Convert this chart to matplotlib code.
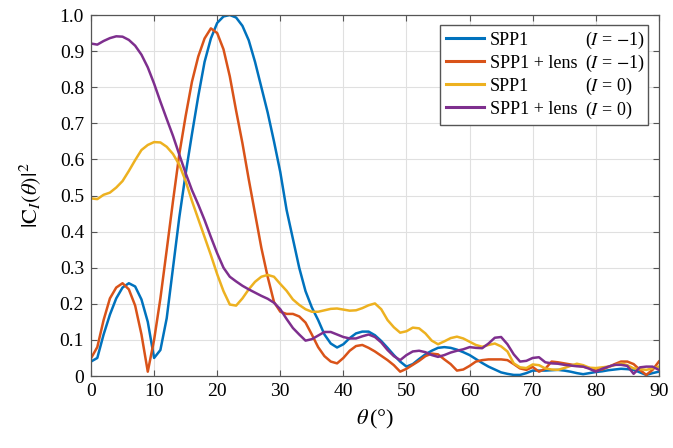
import numpy as np
import matplotlib
matplotlib.use('Agg')
import matplotlib.pyplot as plt
from matplotlib.lines import Line2D
from matplotlib.transforms import IdentityTransform

plt.rcParams['font.family'] = ['Liberation Serif', 'DejaVu Serif']
plt.rcParams['mathtext.fontset'] = 'stix'

# angle in degrees, 1 degree steps
theta = np.arange(0, 91, 1)

# SPP1 (I = -1)
spp1_m1 = [0.040, 0.050, 0.115, 0.170, 0.215, 0.245, 0.257, 0.248, 0.212, 0.150,
           0.050, 0.072, 0.160, 0.300, 0.440, 0.560, 0.670, 0.775, 0.870, 0.935,
           0.978, 0.996, 1.000, 0.993, 0.970, 0.930, 0.870, 0.800, 0.730, 0.650,
           0.565, 0.460, 0.380, 0.300, 0.235, 0.190, 0.155, 0.115, 0.090, 0.079,
           0.088, 0.105, 0.118, 0.123, 0.123, 0.113, 0.097, 0.078, 0.058, 0.040,
           0.026, 0.033, 0.047, 0.060, 0.070, 0.078, 0.080, 0.078, 0.073, 0.066,
           0.058, 0.047, 0.036, 0.026, 0.018, 0.010, 0.006, 0.003, 0.003, 0.008,
           0.015, 0.015, 0.015, 0.016, 0.017, 0.015, 0.012, 0.008, 0.005, 0.008,
           0.011, 0.013, 0.016, 0.018, 0.020, 0.019, 0.017, 0.010, 0.003, 0.008,
           0.012]

# SPP1 + lens (I = -1)
lens_m1 = [0.049, 0.080, 0.155, 0.215, 0.245, 0.257, 0.240, 0.195, 0.115, 0.012,
           0.100, 0.215, 0.349, 0.485, 0.615, 0.720, 0.815, 0.885, 0.935, 0.963,
           0.950, 0.905, 0.830, 0.735, 0.645, 0.545, 0.450, 0.355, 0.275, 0.205,
           0.178, 0.172, 0.172, 0.165, 0.148, 0.115, 0.080, 0.055, 0.040, 0.035,
           0.050, 0.070, 0.083, 0.086, 0.078, 0.068, 0.056, 0.044, 0.030, 0.012,
           0.020, 0.031, 0.042, 0.055, 0.062, 0.060, 0.046, 0.033, 0.015, 0.018,
           0.028, 0.040, 0.044, 0.046, 0.046, 0.046, 0.044, 0.033, 0.021, 0.017,
           0.025, 0.012, 0.020, 0.040, 0.038, 0.035, 0.032, 0.029, 0.026, 0.022,
           0.015, 0.018, 0.025, 0.033, 0.040, 0.040, 0.033, 0.017, 0.003, 0.017,
           0.040]

# SPP1 (I = 0)
spp1_0 = [0.492, 0.490, 0.502, 0.508, 0.522, 0.540, 0.568, 0.598, 0.626, 0.640,
          0.648, 0.647, 0.635, 0.615, 0.585, 0.540, 0.485, 0.435, 0.385, 0.335,
          0.282, 0.235, 0.198, 0.195, 0.215, 0.240, 0.261, 0.275, 0.280, 0.275,
          0.255, 0.236, 0.212, 0.197, 0.185, 0.178, 0.178, 0.182, 0.186, 0.187,
          0.184, 0.181, 0.182, 0.188, 0.196, 0.201, 0.185, 0.155, 0.135, 0.120,
          0.124, 0.134, 0.132, 0.118, 0.098, 0.088, 0.096, 0.105, 0.109, 0.104,
          0.095, 0.086, 0.081, 0.086, 0.090, 0.082, 0.068, 0.035, 0.024, 0.022,
          0.032, 0.030, 0.021, 0.018, 0.017, 0.022, 0.028, 0.034, 0.030, 0.023,
          0.022, 0.024, 0.026, 0.030, 0.035, 0.030, 0.021, 0.019, 0.017, 0.021,
          0.026]

# SPP1 + lens (I = 0)
lens_0 = [0.921, 0.918, 0.928, 0.936, 0.941, 0.940, 0.931, 0.915, 0.890, 0.855,
          0.810, 0.760, 0.712, 0.665, 0.613, 0.562, 0.515, 0.475, 0.432, 0.385,
          0.340, 0.300, 0.275, 0.262, 0.250, 0.240, 0.231, 0.222, 0.214, 0.203,
          0.185, 0.158, 0.133, 0.115, 0.098, 0.102, 0.112, 0.122, 0.122, 0.115,
          0.108, 0.104, 0.104, 0.110, 0.115, 0.108, 0.093, 0.072, 0.055, 0.044,
          0.058, 0.068, 0.070, 0.066, 0.058, 0.053, 0.058, 0.065, 0.070, 0.074,
          0.080, 0.078, 0.077, 0.090, 0.106, 0.108, 0.088, 0.060, 0.040, 0.042,
          0.050, 0.052, 0.038, 0.035, 0.034, 0.031, 0.029, 0.027, 0.026, 0.020,
          0.012, 0.020, 0.026, 0.031, 0.031, 0.028, 0.006, 0.024, 0.026, 0.026,
          0.017]

names = ['SPP1', 'SPP1 + lens', 'SPP1', 'SPP1 + lens']
conds = [r'($I$ = $-$1)', r'($I$ = $-$1)', r'($I$ = 0)', r'($I$ = 0)']
conds_plain = ['(I = \u22121)', '(I = \u22121)', '(I = 0)', '(I = 0)']
colors = ['#0072BD', '#D95319', '#EDB120', '#7E2F8E']
series = [spp1_m1, lens_m1, spp1_0, lens_0]

fig = plt.figure(figsize=(6.73, 4.48), dpi=100)
ax = fig.add_axes([0.1352, 0.1607, 0.8438, 0.8058])

for y, c in zip(series, colors):
    ax.plot(theta, y, color=c, linewidth=1.8)

ax.set_xlim(0, 90)
ax.set_ylim(0, 1.0)
ax.set_xticks(np.arange(0, 91, 10))
ax.set_yticks(np.arange(0, 1.01, 0.1))
ax.set_yticklabels(['0'] + ['%.1f' % v for v in np.arange(0.1, 1.01, 0.1)])
ax.grid(True, color='#e0e0e0', linewidth=0.8)
ax.set_axisbelow(True)
ax.tick_params(direction='in', top=True, right=True, labelsize=14,
               length=4, color='#555555', pad=5)
for s in ax.spines.values():
    s.set_color('#555555')
    s.set_linewidth(0.9)

ax.set_xlabel(r'$\theta\,$(°)', fontsize=16, labelpad=6)
ax.set_ylabel(r'$|\mathrm{C}_{I}(\theta)|^2$', fontsize=16, labelpad=12)

# second legend column holds plain placeholders, replaced by italic versions
handles = [Line2D([], [], color=c, linewidth=2.2) for c in colors]
blank = [Line2D([], [], alpha=0) for c in colors]
leg = ax.legend(handles + blank, names + conds_plain, ncol=2, loc='upper right',
                bbox_to_anchor=(0.9806, 0.972), fontsize=13, frameon=True,
                fancybox=False, edgecolor='#555555', framealpha=1,
                handlelength=2.1, handletextpad=0.3, columnspacing=-1.96,
                labelspacing=0.33, borderpad=0.35, borderaxespad=0.0)
leg.get_frame().set_linewidth(1.0)

fig.canvas.draw()
txts = leg.get_texts()
for t, lab in zip(txts[4:], conds):
    x, y = t.get_transform().transform(t.get_position())
    t.set_visible(False)
    fig.text(x, y, lab, transform=IdentityTransform(), fontsize=13,
             ha='left', va='baseline')

fig.savefig('out.png', dpi=100)
